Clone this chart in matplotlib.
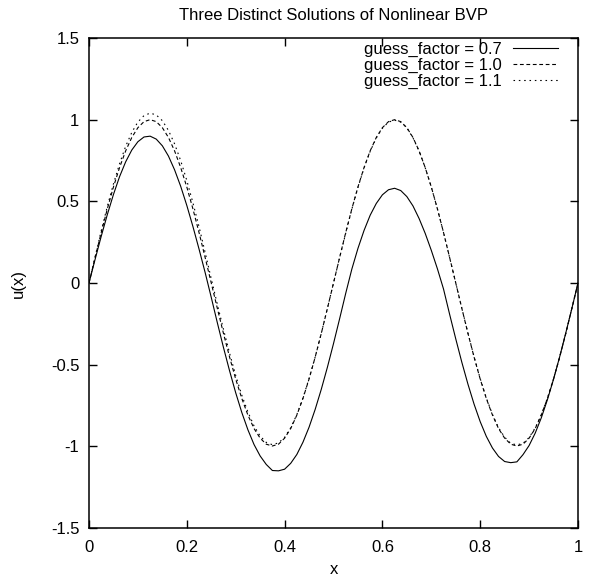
import matplotlib
matplotlib.use("Agg")
import matplotlib.pyplot as plt

plt.rcParams['font.family'] = ['Liberation Sans', 'DejaVu Sans']
plt.rcParams['axes.unicode_minus'] = False

title = "Three Distinct Solutions of Nonlinear BVP"
x_label = "x"
y_label = "u(x)"
labels = ["guess_factor = 0.7", "guess_factor = 1.0", "guess_factor = 1.1"]

x = [0.0, 0.0125, 0.025, 0.0375, 0.05, 0.0625, 0.075, 0.0875, 0.1, 0.1125,
     0.125, 0.1375, 0.15, 0.1625, 0.175, 0.1875, 0.2, 0.2125, 0.225, 0.2375,
     0.25, 0.2625, 0.275, 0.2875, 0.3, 0.3125, 0.325, 0.3375, 0.35, 0.3625,
     0.375, 0.3875, 0.4, 0.4125, 0.425, 0.4375, 0.45, 0.4625, 0.475, 0.4875,
     0.5, 0.5125, 0.525, 0.5375, 0.55, 0.5625, 0.575, 0.5875, 0.6, 0.6125,
     0.625, 0.6375, 0.65, 0.6625, 0.675, 0.6875, 0.7, 0.7125, 0.725, 0.7375,
     0.75, 0.7625, 0.775, 0.7875, 0.8, 0.8125, 0.825, 0.8375, 0.85, 0.8625,
     0.875, 0.8875, 0.9, 0.9125, 0.925, 0.9375, 0.95, 0.9625, 0.975, 0.9875,
     1.0]

u_07 = [0.000, 0.145, 0.286, 0.419, 0.542, 0.651, 0.742, 0.814, 0.865, 0.894,
        0.899, 0.881, 0.840, 0.777, 0.693, 0.592, 0.475, 0.346, 0.208, 0.064,
        -0.088, -0.244, -0.395, -0.538, -0.672, -0.793, -0.899, -0.989, -1.059, -1.111,
        -1.148, -1.150, -1.140, -1.104, -1.050, -0.975, -0.883, -0.774, -0.651, -0.516,
        -0.371, -0.219, -0.063, 0.085, 0.212, 0.322, 0.415, 0.487, 0.540, 0.571,
        0.580, 0.566, 0.529, 0.472, 0.395, 0.304, 0.200, 0.087, -0.037, -0.192,
        -0.342, -0.486, -0.620, -0.742, -0.849, -0.939, -1.010, -1.062, -1.093, -1.100,
        -1.095, -1.051, -0.995, -0.919, -0.825, -0.714, -0.589, -0.452, -0.306, -0.155,
        0.000]

u_10 = [0.000, 0.156, 0.309, 0.454, 0.588, 0.707, 0.809, 0.891, 0.951, 0.988,
        1.000, 0.988, 0.951, 0.891, 0.809, 0.707, 0.588, 0.454, 0.309, 0.156,
        0.000, -0.156, -0.309, -0.454, -0.588, -0.707, -0.809, -0.891, -0.950, -0.987,
        -0.998, -0.987, -0.950, -0.891, -0.809, -0.707, -0.588, -0.454, -0.309, -0.156,
        0.000, 0.156, 0.309, 0.454, 0.588, 0.707, 0.809, 0.891, 0.951, 0.988,
        1.000, 0.988, 0.951, 0.891, 0.809, 0.707, 0.588, 0.454, 0.309, 0.156,
        0.000, -0.156, -0.309, -0.454, -0.588, -0.707, -0.808, -0.891, -0.950, -0.987,
        -0.998, -0.987, -0.950, -0.891, -0.808, -0.707, -0.588, -0.454, -0.309, -0.156,
        0.000]

u_11 = [0.000, 0.161, 0.319, 0.469, 0.607, 0.730, 0.837, 0.922, 0.986, 1.025,
        1.040, 1.029, 0.994, 0.934, 0.852, 0.749, 0.628, 0.491, 0.345, 0.187,
        0.026, -0.131, -0.284, -0.430, -0.566, -0.687, -0.790, -0.875, -0.937, -0.976,
        -0.990, -0.979, -0.945, -0.886, -0.806, -0.704, -0.585, -0.453, -0.308, -0.156,
        0.000, 0.155, 0.305, 0.452, 0.585, 0.705, 0.806, 0.888, 0.948, 0.985,
        0.997, 0.985, 0.950, 0.889, 0.808, 0.706, 0.588, 0.453, 0.309, 0.155,
        0.001, -0.155, -0.307, -0.452, -0.585, -0.704, -0.804, -0.886, -0.944, -0.982,
        -0.991, -0.982, -0.946, -0.887, -0.806, -0.705, -0.586, -0.453, -0.308, -0.155,
        0.000]

x_ticks = [0, 0.2, 0.4, 0.6, 0.8, 1]
x_tick_labels = ["0", "0.2", "0.4", "0.6", "0.8", "1"]
y_ticks = [-1.5, -1, -0.5, 0, 0.5, 1, 1.5]
y_tick_labels = ["-1.5", "-1", "-0.5", "0", "0.5", "1", "1.5"]

W, H = 591, 585
fig = plt.figure(figsize=(W / 100, H / 100), dpi=100)
L, R, T, B = 89, 578, 38, 528
ax = fig.add_axes([L / W, 1 - B / H, (R - L) / W, (B - T) / H])

lw = 0.8
ax.plot(x, u_07, color='black', lw=lw, label=labels[0])
ax.plot(x, u_10, color='black', lw=lw, dashes=(3.4, 2.4), label=labels[1])
ax.plot(x, u_11, color='black', lw=lw, dashes=(1.4, 3.4), label=labels[2])

ax.set_xlim(0, 1)
ax.set_ylim(-1.5, 1.5)
ax.set_xticks(x_ticks)
ax.set_xticklabels(x_tick_labels)
ax.set_yticks(y_ticks)
ax.set_yticklabels(y_tick_labels)
ax.tick_params(direction='in', length=6, width=1.0, top=True, right=True,
               labelsize=12, colors='black')
ax.tick_params(axis='x', pad=9)
ax.tick_params(axis='y', pad=7)
for s in ax.spines.values():
    s.set_linewidth(1.1)
    s.set_color('black')

ax.set_xlabel(x_label, fontsize=12)
ax.set_ylabel(y_label, fontsize=12)
ax.xaxis.set_label_coords(0.5, (B - 570) / (B - T))
ax.xaxis.label.set_va('center')
ax.yaxis.set_label_coords((18 - L) / (R - L), 0.5)
ax.yaxis.label.set_va('center')

ax.text(0.5, 1 + (T - 15) / (B - T), title, transform=ax.transAxes,
        ha='center', va='center', fontsize=12)

ax.legend(loc='upper right', bbox_to_anchor=(1 - 20 / (R - L), 0.992),
          frameon=False, markerfirst=False, fontsize=12, handlelength=2.7,
          handletextpad=0.7, labelspacing=0.05, borderaxespad=0, borderpad=0)

fig.savefig("out.png", dpi=100)
